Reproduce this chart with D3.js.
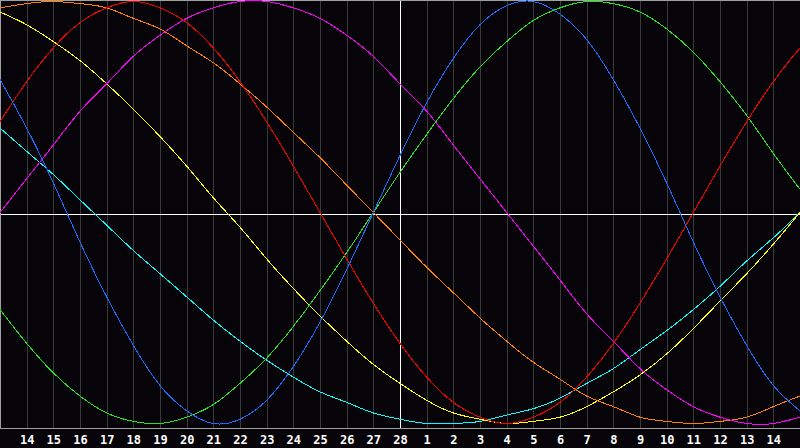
<!DOCTYPE html>
<html>
<head>
<meta charset="utf-8">
<script src="https://cdn.jsdelivr.net/npm/d3@7"></script>
<style>
  html, body { margin: 0; padding: 0; background: #060408; }
  svg { display: block; }
</style>
</head>
<body>
<svg id="chart" width="800" height="448"></svg>
<script>
// Day labels under each grid line
const dayLabels = ["14","15","16","17","18","19","20","21","22","23","24","25","26","27","28",
                   "1","2","3","4","5","6","7","8","9","10","11","12","13","14"];

// Cycle values (percent, -100..100) at each day line, index 0..30
const physical     = [63,40,14,-14,-40,-63,-82,-94,-100,-98,-89,-73,-52,-27,0,27,52,73,89,98,100,94,82,63,40,14,-14,-40,-63,-82,-94];
const emotional    = [43,62,78,90,97,100,97,90,78,62,43,22,0,-22,-43,-62,-78,-90,-97,-100,-97,-90,-78,-62,-43,-22,0,22,43,62,78];
const intellectual = [-46,-62,-76,-87,-95,-99,-100,-97,-91,-81,-69,-54,-37,-19,0,19,37,54,69,81,91,97,100,99,95,87,76,62,46,28,11];
const intuitive    = [0,16,32,48,61,74,84,92,97,100,100,97,92,84,74,61,48,32,16,0,-16,-32,-48,-61,-74,-84,-92,-97,-100,-100,-97];
const aesthetic    = [95,89,81,72,61,49,36,22,7,-7,-22,-36,-49,-61,-72,-81,-89,-95,-98,-100,-99,-97,-92,-85,-77,-67,-55,-42,-29,-15,0];
const awareness    = [97,99,100,99,97,92,87,79,71,61,50,38,26,13,0,-13,-26,-38,-50,-61,-71,-79,-87,-92,-97,-99,-100,-99,-97,-92,-87];
const spiritual    = [40,29,18,6,-6,-18,-29,-40,-51,-61,-70,-78,-85,-90,-95,-98,-100,-100,-99,-96,-93,-88,-81,-74,-65,-56,-46,-35,-23,-12,0];

const seriesNames  = ["spiritual","aesthetic","awareness","intuitive","intellectual","emotional","physical"];
const seriesData   = [spiritual, aesthetic, awareness, intuitive, intellectual, emotional, physical];
const seriesColors = ["#00ffff","#ffff00","#ff8000","#ff00ff","#22e622","#ff0000","#1a6cff"];

const W = 800, plotBottom = 428;
const svg = d3.select("#chart");

const x = d3.scaleLinear().domain([0, 30]).range([0, W]);
const y = d3.scaleLinear().domain([-100, 100]).range([423.5, 1.5]);

svg.append("rect").attr("x", 0).attr("y", 0).attr("width", W).attr("height", 448).attr("fill", "#060408");

// vertical grid lines
const gridIdx = d3.range(1, 30);
svg.append("g").selectAll("line").data(gridIdx).join("line")
  .attr("x1", d => Math.round(x(d)) + 0.5).attr("x2", d => Math.round(x(d)) + 0.5)
  .attr("y1", 1).attr("y2", plotBottom)
  .attr("stroke", "#3a3a3a").attr("stroke-width", 1)
  .attr("shape-rendering", "crispEdges");

// frame: top, left, bottom
const frame = svg.append("g").attr("stroke", "#a0a0a0").attr("stroke-width", 1).attr("shape-rendering", "crispEdges");
frame.append("line").attr("x1", 0).attr("x2", W).attr("y1", 0.5).attr("y2", 0.5);
frame.append("line").attr("x1", 0.5).attr("x2", 0.5).attr("y1", 0).attr("y2", plotBottom + 1);
frame.append("line").attr("x1", 0).attr("x2", W).attr("y1", plotBottom + 0.5).attr("y2", plotBottom + 0.5);

// center axes
svg.append("line").attr("x1", 1).attr("x2", W).attr("y1", 214.5).attr("y2", 214.5)
  .attr("stroke", "#ffffff").attr("stroke-width", 1).attr("shape-rendering", "crispEdges");
svg.append("line").attr("x1", x(15) + 0.5).attr("x2", x(15) + 0.5).attr("y1", 1).attr("y2", plotBottom)
  .attr("stroke", "#ffffff").attr("stroke-width", 1).attr("shape-rendering", "crispEdges");

// curves
const line = d3.line().x((d, i) => x(i)).y(d => y(d)).curve(d3.curveNatural);
svg.append("g").selectAll("path").data(seriesData).join("path")
  .attr("d", d => line(d))
  .attr("fill", "none")
  .attr("stroke", (d, i) => seriesColors[i])
  .attr("stroke-width", 1)
  .attr("shape-rendering", "crispEdges");

// day labels
svg.append("g").selectAll("text").data(dayLabels).join("text")
  .attr("x", (d, i) => x(i + 1) + 0.5)
  .attr("y", 443.5)
  .attr("text-anchor", "middle")
  .attr("fill", "#ffffff")
  .attr("font-family", "'DejaVu Sans Mono', monospace")
  .attr("font-weight", "bold")
  .attr("font-size", 12)
  .text(d => d);
</script>
</body>
</html>
